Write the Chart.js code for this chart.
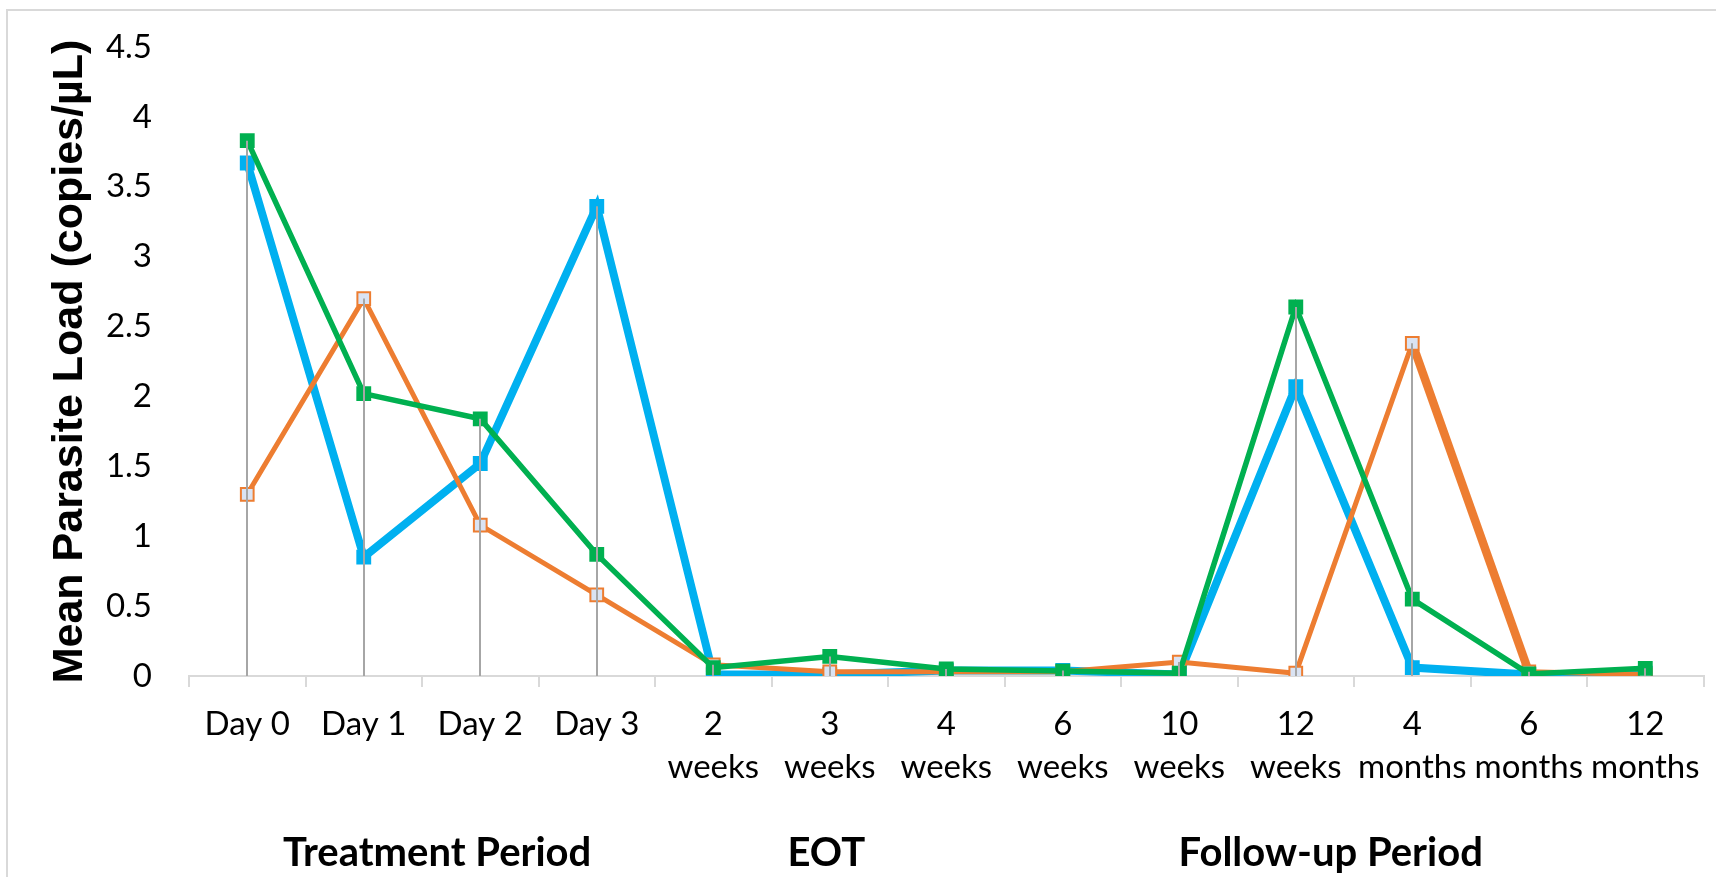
<!DOCTYPE html>
<html>
<head>
<meta charset="utf-8">
<script src="https://cdn.jsdelivr.net/npm/chart.js@4/dist/chart.umd.min.js"></script>
<style>
  html, body { margin: 0; padding: 0; background: #fff; overflow: hidden; }
  #wrap { position: relative; width: 1716px; height: 877px; }
  #frame { position: absolute; left: 6px; top: 9px; width: 1730px; height: 900px; border: 2px solid #d9d9d9; }
  #chart { position: absolute; left: 0; top: 0; }
</style>
</head>
<body>
<div id="wrap">
  <div id="frame"></div>
  <canvas id="chart" width="1716" height="877"></canvas>
</div>
<script>
// Mean parasite load over time
const categories = [
  'Day 0', 'Day 1', 'Day 2', 'Day 3',
  ['2', 'weeks'], ['3', 'weeks'], ['4', 'weeks'], ['6', 'weeks'],
  ['10', 'weeks'], ['12', 'weeks'], ['4', 'months'], ['6', 'months'], ['12', 'months']
];
const blueValues   = [3.67, 0.85, 1.52, 3.36, 0.01, 0.01, 0.04, 0.04, 0.01, 2.07, 0.06, 0.01, 0.02];
const orangeValues = [1.30, 2.70, 1.08, 0.58, 0.08, 0.03, 0.03, 0.03, 0.10, 0.02, 2.38, 0.03, 0.01];
const greenValues  = [3.83, 2.02, 1.84, 0.87, 0.06, 0.14, 0.05, 0.035, 0.02, 2.64, 0.55, 0.015, 0.055];
const yTickLabels = ['0', '0.5', '1', '1.5', '2', '2.5', '3', '3.5', '4', '4.5'];
const periodLabels = ['Treatment Period', 'EOT', 'Follow-up Period'];

const tickFont = { family: 'Lato, "Open Sans", sans-serif', size: 33 };

// Excel-style drop lines + period captions
const extras = {
  id: 'extras',
  afterDatasetsDraw(chart) {
    const { ctx, scales: { x, y } } = chart;
    ctx.save();
    ctx.strokeStyle = '#a6a6a6';
    ctx.lineWidth = 2;
    categories.forEach((c, i) => {
      const top = Math.max(...chart.data.datasets.map(d => d.data[i]));
      const px = Math.round(x.getPixelForValue(i));
      ctx.beginPath();
      ctx.moveTo(px, y.getPixelForValue(top));
      ctx.lineTo(px, y.getPixelForValue(0));
      ctx.stroke();
    });
    ctx.restore();
  },
  afterDraw(chart) {
    const { ctx, scales: { x } } = chart;
    const where = [1.63, 4.97, 9.3];
    ctx.save();
    ctx.fillStyle = '#000';
    ctx.font = 'bold 40px Lato, "Open Sans", sans-serif';
    ctx.textAlign = 'center';
    ctx.textBaseline = 'middle';
    periodLabels.forEach((t, i) => {
      ctx.fillText(t, x.getPixelForValue(where[i]), 853);
    });
    ctx.restore();
  }
};

const ctx = document.getElementById('chart').getContext('2d');

const chart = new Chart(ctx, {
  type: 'line',
  data: {
    labels: categories,
    datasets: [{
      label: 'Series 1',
      data: blueValues,
      borderColor: '#00b0f0',
      backgroundColor: '#00b0f0',
      borderWidth: 8,
      pointStyle: 'rect',
      pointRadius: 10.5,
      pointBorderWidth: 0,
      pointBackgroundColor: '#00b0f0',
      order: 3
    }, {
      label: 'Series 2',
      data: orangeValues,
      borderColor: '#ed7d31',
      backgroundColor: '#ed7d31',
      borderWidth: 5,
      pointStyle: 'rect',
      pointRadius: 9,
      pointBorderWidth: 2,
      pointBorderColor: '#ed7d31',
      pointBackgroundColor: '#dae3f3',
      segment: {
        borderWidth: c => (c.p0DataIndex === 10 ? 8.5 : undefined)
      },
      order: 2
    }, {
      label: 'Series 3',
      data: greenValues,
      borderColor: '#00b050',
      backgroundColor: '#00b050',
      borderWidth: 5.5,
      pointStyle: 'rect',
      pointRadius: 10.5,
      pointBorderWidth: 0,
      pointBackgroundColor: '#00b050',
      order: 1
    }]
  },
  options: {
    responsive: false,
    devicePixelRatio: 1,
    animation: false,
    layout: { padding: { top: 47, right: 11, bottom: 0, left: 0 } },
    plugins: {
      legend: { display: false },
      tooltip: { enabled: false }
    },
    scales: {
      x: {
        offset: true,
        grid: { offset: true, drawOnChartArea: false, drawTicks: true, tickLength: 11, color: '#d9d9d9', lineWidth: 2 },
        border: { color: '#d9d9d9', width: 2 },
        ticks: {
          autoSkip: false, maxRotation: 0, minRotation: 0, padding: 16,
          color: '#000', font: { ...tickFont, lineHeight: 1.3 }
        },
        afterFit: s => { s.height = 201; }
      },
      y: {
        min: 0,
        max: 4.5,
        grid: { display: false, drawTicks: false },
        border: { display: false },
        ticks: {
          stepSize: 0.5, padding: 37, color: '#000', font: tickFont,
          callback: (v, i) => yTickLabels[i]
        },
        title: {
          display: true,
          text: 'Mean Parasite Load (copies/µL)',
          color: '#000',
          font: { family: '"Liberation Sans", Arial, sans-serif', size: 43, weight: 'bold', lineHeight: 1.2 },
          padding: { top: 44, bottom: 0 }
        },
        afterFit: s => { s.width = 189; s.paddingTop = 20; s.paddingBottom = 20; }
      }
    }
  },
  plugins: [extras]
});
</script>
</body>
</html>
